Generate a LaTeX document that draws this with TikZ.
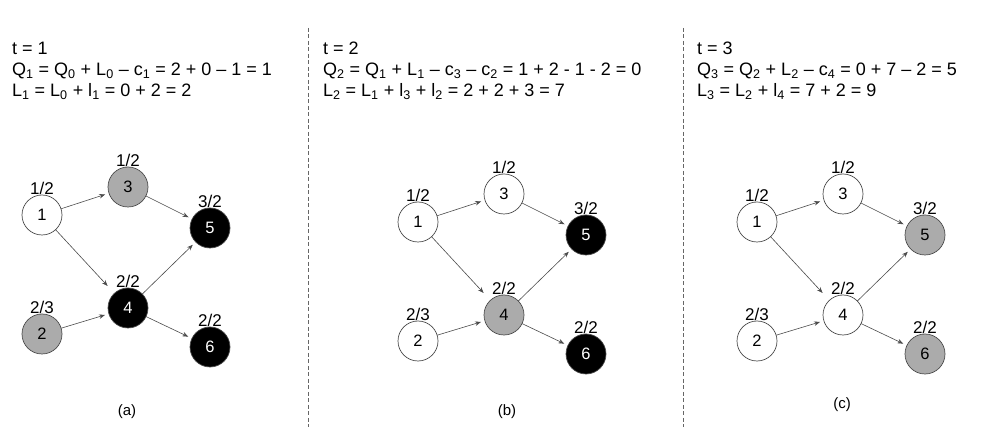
\documentclass[tikz,border=0pt]{standalone}
\usepackage{fontspec}
\setmainfont{Liberation Sans}
\usetikzlibrary{arrows.meta}

\tikzset{
  vtx/.style={circle, draw=black!70, line width=0.7pt, minimum size=40pt,
    inner sep=0pt, outer sep=0pt, font=\fontsize{16.5}{19}\selectfont,
    label distance=5pt},
  idle/.style={vtx, fill=white},
  busy/.style={vtx, fill=black!33},
  done/.style={vtx, fill=black, text=white},
  every label/.style={inner sep=0pt, font=\fontsize{17}{20}\selectfont},
  flow/.style={-{Stealth[length=6pt,width=4.5pt]}, draw=black!70,
    line width=0.6pt, shorten >=4pt},
  eqn/.style={anchor=base west, inner sep=0pt, font=\fontsize{18}{21}\selectfont},
  capt/.style={inner sep=0pt, font=\fontsize{15}{18}\selectfont},
  divider/.style={draw=black!60, line width=0.7pt, dash pattern=on 4pt off 2.5pt}
}

% one task graph: #1 name prefix, #2/#3 position of vertex 1,
% #4..#9 fill styles of vertices 1..6
\newcommand\taskgraph[9]{%
  \begin{scope}[shift={(#2,#3)}]
    \node[#4, label=above:1/2] (#1-1) at (0,0)   {1};
    \node[#5, label=above:2/3] (#1-2) at (0,119) {2};
    \node[#6, label=above:1/2] (#1-3) at (86,-28) {3};
    \node[#7, label=above:2/2] (#1-4) at (86,93) {4};
    \node[#8, label=above:3/2] (#1-5) at (168,13) {5};
    \node[#9, label=above:2/2] (#1-6) at (168,132) {6};
  \end{scope}
  \draw[flow] (#1-1) -- (#1-3);
  \draw[flow, shorten >=10pt] (#1-1) -- (#1-4);
  \draw[flow] (#1-3) -- (#1-5);
  \draw[flow] (#1-2) -- (#1-4);
  \draw[flow] (#1-4) -- (#1-5);
  \draw[flow] (#1-4) -- (#1-6);
}

\begin{document}
\begin{tikzpicture}[x=1pt, y=-1pt]
  \useasboundingbox[fill=white] (0,0) rectangle (989,438);

  % separators between the three time steps
  \draw[divider] (308,28) -- (308,427);
  \draw[divider] (683,28) -- (683,427);

  % t = 1
  \node[eqn] (ta) at (12,55) {t = 1};
  \node[eqn] (qa) at (12,76) {Q\textsubscript{1} = Q\textsubscript{0} + L\textsubscript{0} – c\textsubscript{1} = 2 + 0 – 1 = 1};
  \node[eqn] (la) at (12,97) {L\textsubscript{1} = L\textsubscript{0} + l\textsubscript{1} = 0 + 2 = 2};
  \taskgraph{a}{42}{215}{idle}{busy}{busy}{done}{done}{done}
  \node[capt] (capa) at (127,412) {(a)};

  % t = 2
  \node[eqn] (tb) at (323,55) {t = 2};
  \node[eqn] (qb) at (323,76) {Q\textsubscript{2} = Q\textsubscript{1} + L\textsubscript{1} – c\textsubscript{3} – c\textsubscript{2} = 1 + 2 - 1 - 2 = 0};
  \node[eqn] (lb) at (323,97) {L\textsubscript{2} = L\textsubscript{1} + l\textsubscript{3} + l\textsubscript{2} = 2 + 2 + 3 = 7};
  \taskgraph{b}{418}{222}{idle}{idle}{idle}{busy}{done}{done}
  \node[capt] (capb) at (507,412) {(b)};

  % t = 3
  \node[eqn] (tc) at (697,55) {t = 3};
  \node[eqn] (qc) at (697,76) {Q\textsubscript{3} = Q\textsubscript{2} + L\textsubscript{2} – c\textsubscript{4} = 0 + 7 – 2 = 5};
  \node[eqn] (lc) at (697,97) {L\textsubscript{3} = L\textsubscript{2} + l\textsubscript{4} = 7 + 2 = 9};
  \taskgraph{c}{757}{222}{idle}{idle}{idle}{idle}{busy}{busy}
  \node[capt] (capc) at (842,405) {(c)};
\end{tikzpicture}
\end{document}
